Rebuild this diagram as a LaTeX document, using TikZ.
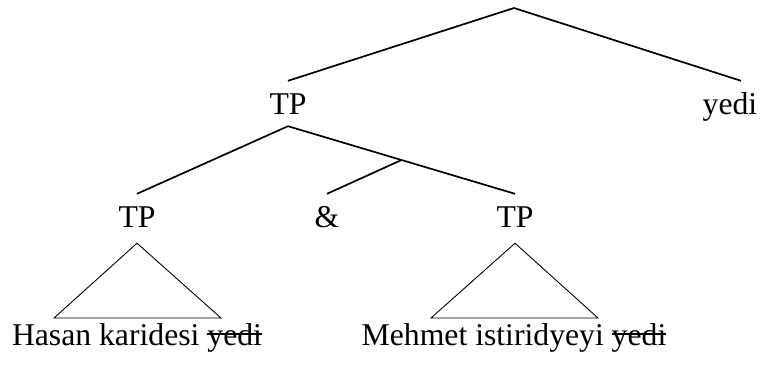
\documentclass[tikz,border=0pt]{standalone}
\usepackage{fontspec}
\setmainfont{Liberation Serif}
\usetikzlibrary{calc}
\newcommand{\mystrike}[1]{\setbox0\hbox{#1}\rlap{\rule[0.33em]{\wd0}{1.4pt}}\box0}
\tikzset{
  lbl/.style={inner xsep=0pt, inner ysep=12pt, text height=21pt, text depth=0pt, anchor=base, font=\fontsize{31.7}{38}\selectfont},
  leaf/.style={inner sep=0pt, anchor=base, font=\fontsize{31.7}{38}\selectfont},
  branch/.style={line width=1.7pt},
  tri/.style={line width=0.9pt, line join=miter}
}
\begin{document}
\begin{tikzpicture}[x=1pt,y=-1pt]
\useasboundingbox (0,0) rectangle (770,367);
\coordinate (root) at (514,8);
\node[lbl] (tp) at (288,114) {TP};
\node[lbl] (yedi) at (730,114) {yedi};
\node[lbl] (tpl) at (137,227) {TP};
\node[lbl] (amp) at (327,227) {\&};
\node[lbl] (tpr) at (515,227) {TP};
\node[leaf] (leafl) at (137,345) {Hasan karidesi \mystrike{yedi}};
\node[leaf] (leafr) at (514,345) {Mehmet istiridyeyi \mystrike{yedi}};
\draw[branch] (root) -- (tp.north);
\draw[branch] (root) -- ([xshift=11pt]yedi.north);
\draw[branch] (tp.south) -- (tpl.north);
\draw[branch] (tp.south) -- (tpr.north);
\coordinate (mid) at ($(tp.south)!0.5!(tpr.north)$);
\draw[branch] (mid) -- (amp.north);
\draw[tri] ([yshift=-4pt]tpl.south) -- (54,318) -- (221,318) -- cycle;
\draw[tri] ([yshift=-4pt]tpr.south) -- (431,318) -- (598,318) -- cycle;
\end{tikzpicture}
\end{document}
